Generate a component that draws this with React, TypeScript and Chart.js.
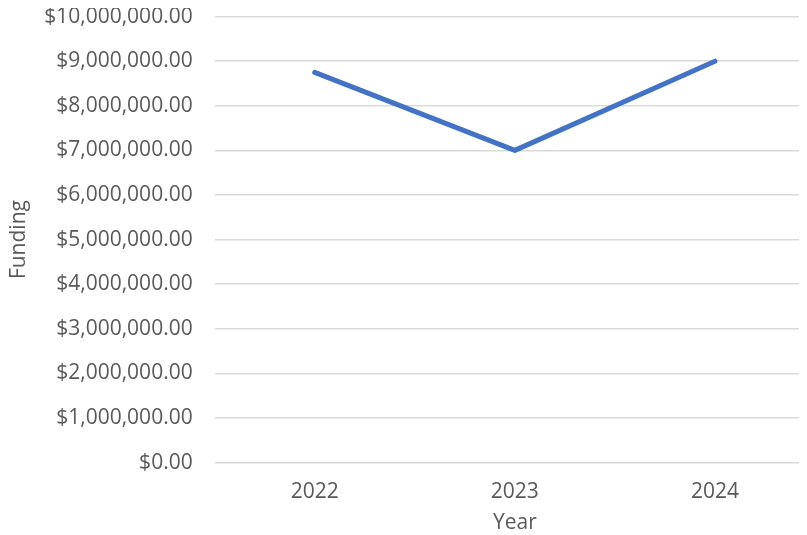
import React, { useEffect, useRef } from "react";
import { Chart, registerables } from "chart.js";

Chart.register(...registerables);

const years = ["2022", "2023", "2024"];
const funding = [8750000, 7000000, 9000000];
const yTickMax = 10000000;
const yTickStep = 1000000;

const FONT = "'Open Sans', sans-serif";
const TEXT = "#595959";

function fmt(v: number) {
  return "$" + v.toLocaleString("en-US", { minimumFractionDigits: 2, maximumFractionDigits: 2 });
}

export default function App() {
  const ref = useRef<HTMLCanvasElement | null>(null);
  useEffect(() => {
    if (!ref.current) return;
    const chart = new Chart(ref.current, {
      type: "line",
      data: {
        labels: years,
        datasets: [
          {
            data: funding,
            borderColor: "#4472C4",
            borderWidth: 5,
            pointRadius: 0,
            borderCapStyle: "round",
            borderJoinStyle: "round",
            tension: 0,
            fill: false,
          },
        ],
      },
      options: {
        animation: false,
        responsive: false,
        maintainAspectRatio: false,
        layout: { padding: { top: 0, right: 0, bottom: 0, left: 6 } },
        plugins: { legend: { display: false }, tooltip: { enabled: false } },
        scales: {
          x: {
            offset: true,
            grid: { display: false, drawTicks: false },
            border: { display: false },
            ticks: { color: TEXT, font: { family: FONT, size: 21 }, padding: 17 },
            title: { display: true, text: "Year", color: TEXT, font: { family: FONT, size: 21 }, padding: { top: -11, bottom: 0 } },
          },
          y: {
            min: 0,
            max: yTickMax,
            grid: { color: "#d9d9d9", lineWidth: 1.5, drawTicks: false },
            border: { display: false },
            ticks: {
              stepSize: yTickStep,
              color: TEXT,
              font: { family: FONT, size: 21 },
              padding: 22,
              callback: (v: any) => fmt(Number(v)),
            },
            title: { display: true, text: "Funding", color: TEXT, font: { family: FONT, size: 21 }, padding: { top: 0, bottom: -9 } },
          },
        },
      },
    });
    return () => chart.destroy();
  }, []);
  return (
    <div style={{ margin: "-8px 0 0 -8px", width: 807, height: 535, overflow: "hidden", position: "relative" }}>
      <canvas ref={ref} width={815} height={554} style={{ display: "block", marginTop: -18 }} />
    </div>
  );
}
